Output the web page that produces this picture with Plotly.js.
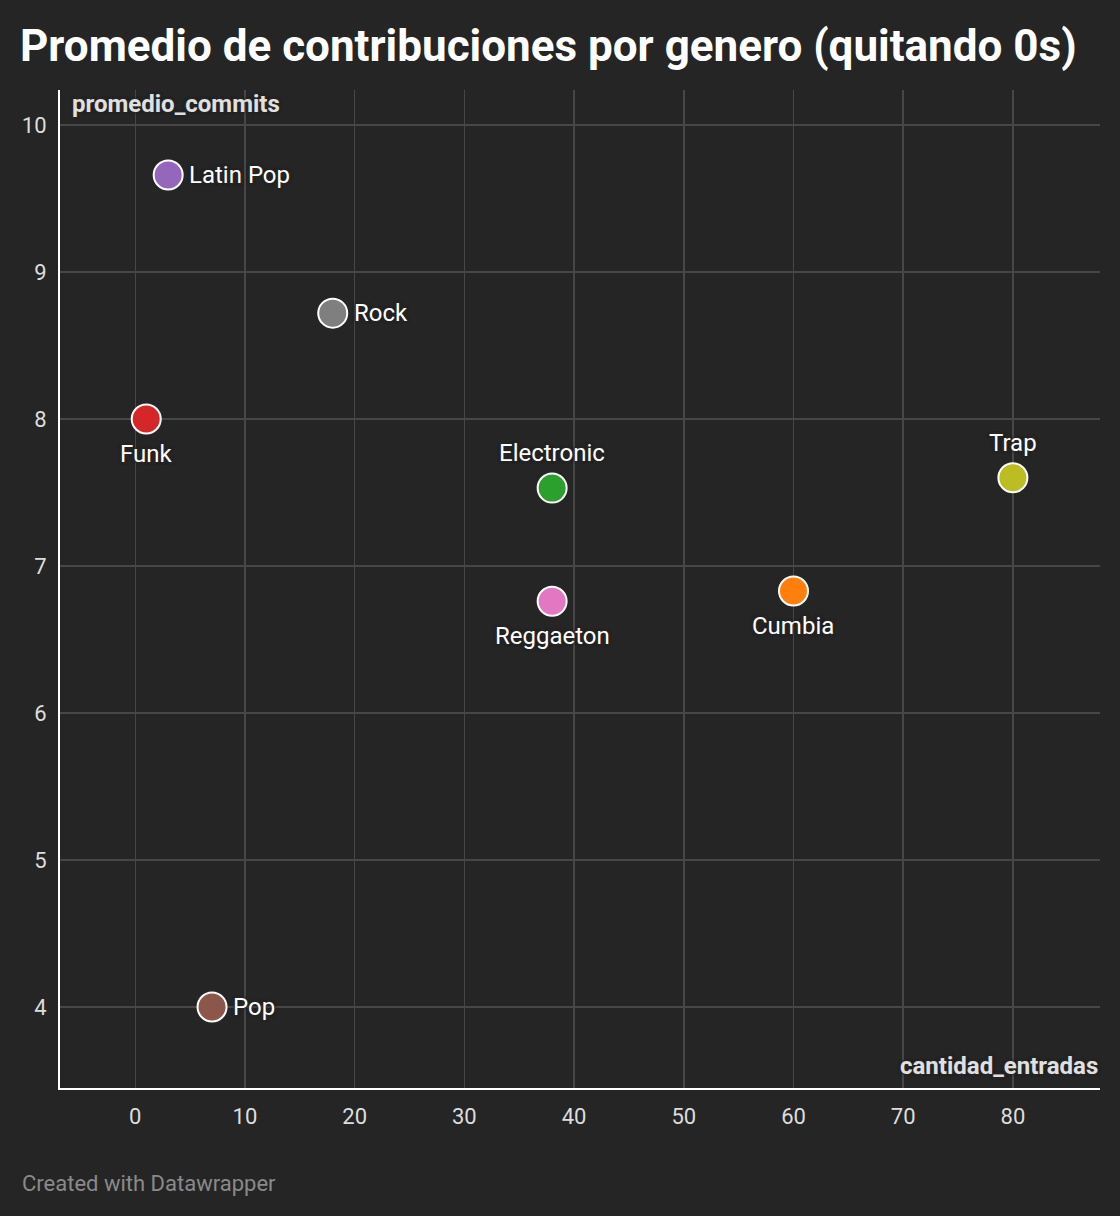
<!DOCTYPE html>
<html>
<head>
<meta charset="utf-8">
<script src="https://cdn.plot.ly/plotly-3.0.1.min.js"></script>
<style>
html,body{margin:0;padding:0;background:#252525;}
#chart{width:1120px;height:1216px;}
</style>
</head>
<body>
<div id="chart"></div>
<script>
const genres = ["Latin Pop","Rock","Funk","Electronic","Trap","Reggaeton","Cumbia","Pop"];
const cantidadEntradas = [3, 18, 1, 38, 80, 38, 60, 7];
const promedioCommits = [9.66, 8.72, 8.0, 7.53, 7.6, 6.76, 6.83, 4.0];
const colors = ["#9467bd","#7f7f7f","#d62728","#2ca02c","#bcbd22","#e377c2","#ff7f0e","#8c564b"];
const labelSide = ["right","right","bottom","top","top","bottom","bottom","right"];
const xTicks = [0,10,20,30,40,50,60,70,80];
const yTicks = [4,5,6,7,8,9,10];

const bg = "#252525";
const halo = "0 0 3px " + bg + ", 0 0 3px " + bg + ", 0 0 3px " + bg;

const trace = {
  type: "scatter",
  mode: "markers",
  x: cantidadEntradas,
  y: promedioCommits,
  marker: {size: 29, color: colors, opacity: 1, line: {color: "#ffffff", width: 2}},
  hoverinfo: "none",
  cliponaxis: false
};

const labelAnnotations = genres.map(function (g, i) {
  const side = labelSide[i];
  const a = {
    text: g,
    x: cantidadEntradas[i],
    y: promedioCommits[i],
    xref: "x", yref: "y",
    showarrow: false,
    yanchor: "middle",
    font: {family: "Roboto", size: 24, color: "#ffffff", shadow: halo}
  };
  if (side === "right") { a.xanchor = "left"; a.xshift = 19; a.yshift = 0; }
  else if (side === "top") { a.xanchor = "center"; a.yshift = 35; }
  else { a.xanchor = "center"; a.yshift = -35; }
  return a;
});

const layout = {
  width: 1120,
  height: 1216,
  paper_bgcolor: bg,
  plot_bgcolor: bg,
  margin: {l: 60, r: 20, t: 90, b: 128},
  showlegend: false,
  font: {family: "Roboto", color: "#dddddd"},
  title: {
    text: "<b>Promedio de contribuciones por genero (quitando 0s)</b>",
    font: {family: "Roboto", size: 44, color: "#ffffff"},
    xref: "container", yref: "container",
    x: 20/1120, xanchor: "left",
    y: 1 - 46/1216, yanchor: "middle"
  },
  xaxis: {
    range: [-6.86, 87.94],
    tickvals: xTicks,
    ticktext: xTicks.map(String),
    showgrid: true,
    gridcolor: "#474747",
    gridwidth: 1.5,
    zeroline: false,
    showline: true,
    linecolor: "#ffffff",
    linewidth: 2,
    ticks: "",
    ticklabelstandoff: 8,
    tickfont: {family: "Roboto", size: 22, color: "#dddddd"},
    fixedrange: true
  },
  yaxis: {
    range: [3.449, 10.238],
    tickvals: yTicks,
    ticktext: yTicks.map(String),
    showgrid: true,
    gridcolor: "#474747",
    gridwidth: 1.5,
    zeroline: false,
    showline: true,
    linecolor: "#ffffff",
    linewidth: 2,
    ticks: "",
    ticklabelstandoff: 7,
    tickfont: {family: "Roboto", size: 22, color: "#dddddd"},
    fixedrange: true
  },
  annotations: labelAnnotations.concat([
    {
      text: "<b>promedio_commits</b>",
      xref: "paper", yref: "paper",
      x: 10/1040, y: (1088-104)/998,
      xanchor: "left", yanchor: "middle",
      showarrow: false,
      font: {family: "Roboto", size: 24, color: "#e0e0e0", shadow: halo}
    },
    {
      text: "<b>cantidad_entradas</b>",
      xref: "paper", yref: "paper",
      x: 1, y: (1088-1066)/998,
      xanchor: "right", yanchor: "middle",
      showarrow: false,
      font: {family: "Roboto", size: 24, color: "#e0e0e0", shadow: halo}
    },
    {
      text: "Created with Datawrapper",
      xref: "paper", yref: "paper",
      x: -40/1040, y: (1088-1183)/998,
      xanchor: "left", yanchor: "middle",
      showarrow: false,
      font: {family: "Roboto", size: 22, color: "#8a8a8a"}
    }
  ])
};

Plotly.newPlot("chart", [trace], layout, {displayModeBar: false, staticPlot: true});
</script>
</body>
</html>
